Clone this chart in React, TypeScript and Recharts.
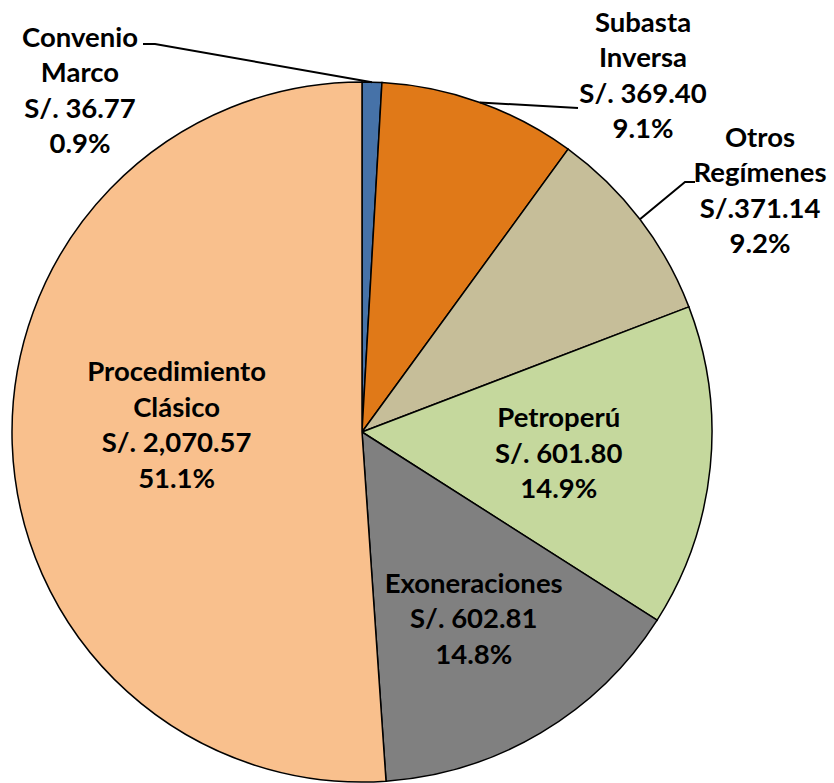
import { PieChart, Pie, Cell } from "recharts";

const categories = [
  "Convenio Marco",
  "Subasta Inversa",
  "Otros Regímenes",
  "Petroperú",
  "Exoneraciones",
  "Procedimiento Clásico",
];
const amounts = [36.77, 369.4, 371.14, 601.8, 602.81, 2070.57];
const amountLabels = ["S/. 36.77", "S/. 369.40", "S/.371.14", "S/. 601.80", "S/. 602.81", "S/. 2,070.57"];
const percentLabels = ["0.9%", "9.1%", "9.2%", "14.9%", "14.8%", "51.1%"];
const nameLines = [
  ["Convenio", "Marco"],
  ["Subasta", "Inversa"],
  ["Otros", "Regímenes"],
  ["Petroperú"],
  ["Exoneraciones"],
  ["Procedimiento", "Clásico"],
];

const colors = ["#4672A8", "#E07918", "#C6BE99", "#C5D89D", "#808080", "#F9C08D"];

// label placement: inside labels sit on the slice's mid angle, outside ones get a leader line
const labelLayout: any[] = [
  { outside: true, x: 80, y: 89, bend: [[155, 44], [143, 44]] },
  { outside: true, x: 643, y: 74, bend: [[578, 108]] },
  { outside: true, x: 760, y: 189, bend: [[685, 182], [695, 182]] },
  { r: 0.565, dy: 0 },
  { r: 0.625, dy: -3 },
  { r: 0.53, dy: -15 },
];

const data = categories.map((name, i) => ({ name, value: amounts[i] }));

const RAD = Math.PI / 180;
const LINE_H = 35.5;

function renderLabel(props: any) {
  const { cx, cy, midAngle, outerRadius, index } = props;
  const lay = labelLayout[index];
  const lines = [...nameLines[index], amountLabels[index], percentLabels[index]];
  let x: number, y: number;
  let leader = null;
  if (lay.outside) {
    x = lay.x;
    y = lay.y;
    const sx = cx + outerRadius * Math.cos(-midAngle * RAD);
    const sy = cy + outerRadius * Math.sin(-midAngle * RAD);
    const pts = [[sx, sy], ...lay.bend].map((p: number[]) => p.join(",")).join(" ");
    leader = <polyline points={pts} fill="none" stroke="#000" strokeWidth={2} />;
  } else {
    const r = outerRadius * lay.r;
    x = cx + r * Math.cos(-midAngle * RAD);
    y = cy + r * Math.sin(-midAngle * RAD) + lay.dy;
  }
  const top = y - ((lines.length - 1) * LINE_H) / 2;
  return (
    <g key={`lbl-${index}`}>
      {leader}
      <text
        x={x}
        y={top}
        textAnchor="middle"
        dominantBaseline="central"
        fontFamily="Lato, 'Open Sans', sans-serif"
        fontWeight="bold"
        fontSize={27.5}
        fill="#000"
      >
        {lines.map((t, j) => (
          <tspan key={j} x={x} y={top + j * LINE_H}>
            {t}
          </tspan>
        ))}
      </text>
    </g>
  );
}

export default function App() {
  return (
    <div style={{ position: "absolute", left: 0, top: 0, background: "#fff" }}>
      <PieChart width={834} height={783} margin={{ top: 0, right: 0, bottom: 0, left: 0 }}>
        <Pie
          data={data}
          dataKey="value"
          nameKey="name"
          cx={362}
          cy={432}
          outerRadius={350}
          startAngle={90}
          endAngle={-270}
          stroke="#000"
          strokeWidth={1.5}
          label={renderLabel}
          labelLine={false}
          isAnimationActive={false}
        >
          {data.map((d, i) => (
            <Cell key={d.name} fill={colors[i]} />
          ))}
        </Pie>
      </PieChart>
    </div>
  );
}
